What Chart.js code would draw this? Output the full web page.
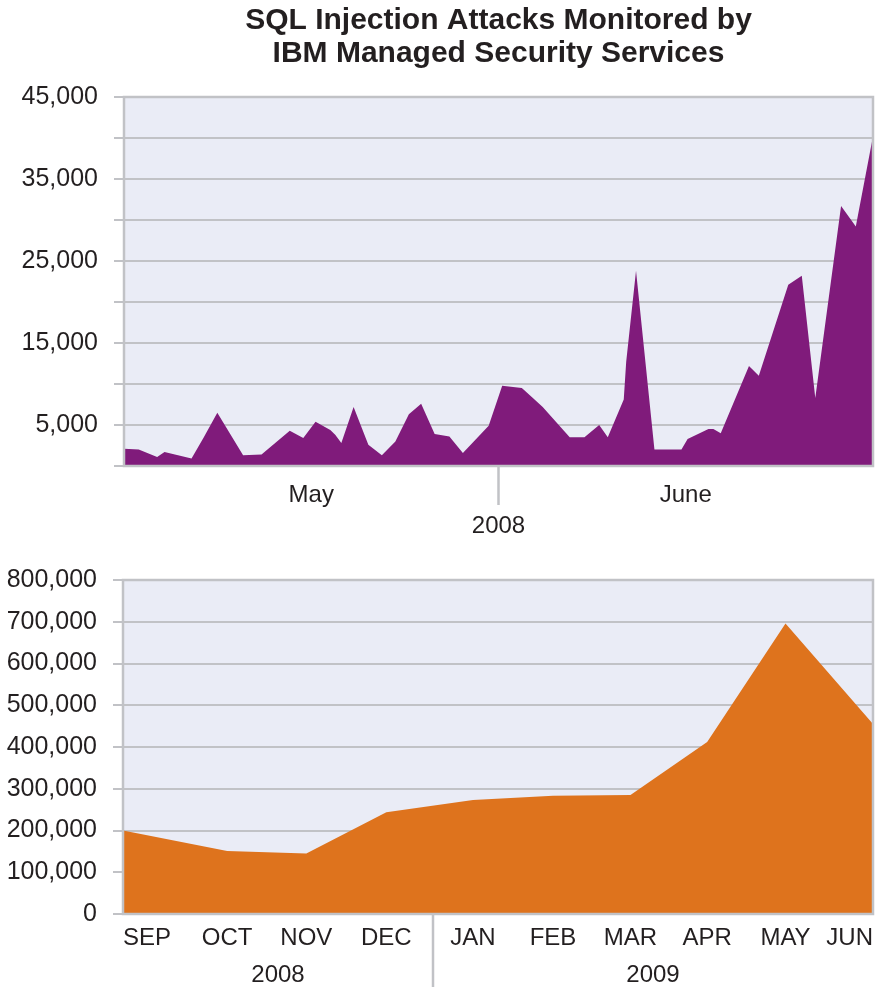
<!DOCTYPE html>
<html lang="en">
<head>
    <meta charset="UTF-8">
    <title>SQL Injection Attacks</title>
    <script src="https://cdn.jsdelivr.net/npm/chart.js@4.4.1/dist/chart.umd.min.js"></script>
    <style>
        body { margin: 0; background: #fff; }
        .charts { width: 876px; height: 987px; }
        canvas { display: block; }
    </style>
</head>
<body>
<div class="charts">
    <canvas id="daily" width="876" height="548"></canvas>
    <canvas id="monthly" width="876" height="439"></canvas>
</div>
<script>
    // daily attacks, May - June 2008 (x = days since start of May)
    const dailyDays = [0, 1.2, 2.7, 3.3, 5.5, 6.5, 7.6, 9.7, 11.2, 13.5,
        14.6, 15.6, 16.8, 17.2, 17.7, 18.7, 19.9, 21.0, 22.1, 23.2,
        24.2, 25.3, 26.5, 27.6, 29.7, 30.8, 32.4, 33.3, 34.1, 36.3,
        37.5, 38.7, 39.4, 40.7, 40.9, 41.7, 43.2, 45.4, 45.9, 47.6,
        48.0, 48.6, 50.9, 51.7, 54.1, 55.2, 56.3, 58.4, 59.6, 61]
    const dailyAttacks = [2100, 2000, 1100, 1700, 900, 3500, 6500, 1300, 1400, 4300,
        3400, 5400, 4400, 3800, 2800, 7200, 2600, 1300, 3000, 6300,
        7600, 3900, 3600, 1600, 4900, 9800, 9500, 8300, 7200, 3500,
        3500, 5000, 3500, 8100, 12700, 23800, 2000, 2000, 3300, 4500,
        4500, 4000, 12200, 11000, 22100, 23200, 8300, 31700, 29200, 40200]
    const dailyMonths = ['May', 'June']
    const dailyMonthEdges = [0, 30.5, 61]
    const dailyYears = ['2008']
    const dailyYearEdges = [0, 61]

    // monthly attacks, Sep 2008 - Jun 2009 (x = month position)
    const months = ['SEP', 'OCT', 'NOV', 'DEC', 'JAN', 'FEB', 'MAR', 'APR', 'MAY', 'JUN']
    const monthX = [0, 1.25, 2.2, 3.16, 4.2, 5.16, 6.09, 7.01, 7.95, 9]
    const monthlyAttacks = [200000, 151000, 145000, 244000, 273000, 283000, 285000, 412000, 696000, 455000]
    const years = ['2008', '2009']
    const yearEdges = [0, 3.72, 9]

    const textColor = '#231f20'
    const gridColor = '#c1c2c6'
    const labelFont = {family: 'Liberation Sans', size: 24}
    const valueFont = {family: 'Liberation Sans', size: 25}

    const midpoints = edges => edges.slice(1).map((e, i) => (edges[i] + e) / 2)

    // plot background, frame and the divider line below the x axis
    const plotDecor = {
        id: 'plotDecor',
        beforeDraw(chart, args, opts) {
            const {ctx, chartArea: a} = chart
            ctx.save()
            ctx.fillStyle = opts.background
            ctx.fillRect(a.left, a.top, a.width, a.height)
            ctx.restore()
        },
        afterDatasetsDraw(chart, args, opts) {
            const {ctx, chartArea: a} = chart
            ctx.save()
            ctx.strokeStyle = gridColor
            ctx.lineWidth = 2.5
            ctx.strokeRect(a.left, a.top, a.width, a.height)
            ctx.restore()
        },
        afterDraw(chart, args, opts) {
            const {ctx, chartArea: a} = chart
            const x = chart.scales.x.getPixelForValue(opts.divider)
            ctx.save()
            ctx.strokeStyle = gridColor
            ctx.lineWidth = 2.5
            ctx.beginPath()
            ctx.moveTo(x, a.bottom)
            ctx.lineTo(x, a.bottom + opts.dividerLength)
            ctx.stroke()
            ctx.restore()
        }
    }

    function bottomAxis(min, max, positions, labels, height, padding, weight, align) {
        return {
            type: 'linear',
            position: 'bottom',
            min: min,
            max: max,
            weight: weight,
            grid: {display: false, drawTicks: false},
            border: {display: false},
            afterBuildTicks: scale => {
                scale.ticks = positions.map(v => ({value: v}))
            },
            afterFit: scale => {
                scale.height = height
                scale.paddingLeft = 0
                scale.paddingRight = 0
            },
            ticks: {
                autoSkip: false,
                maxRotation: 0,
                align: align,
                padding: padding,
                color: textColor,
                font: labelFont,
                callback: (value, index) => labels[index]
            }
        }
    }

    function valueAxis(max, step, width, showLabel) {
        return {
            min: 0,
            max: max,
            afterFit: scale => {
                scale.width = width
            },
            grid: {color: gridColor, lineWidth: 2, tickLength: 10},
            border: {display: false},
            ticks: {
                stepSize: step,
                padding: 16,
                color: textColor,
                font: valueFont,
                callback: value => showLabel(value) ? value.toLocaleString('en-US') : ''
            }
        }
    }

    new Chart(document.getElementById('daily'), {
        type: 'line',
        data: {
            datasets: [{
                data: dailyDays.map((d, i) => ({x: d, y: dailyAttacks[i]})),
                backgroundColor: '#801b7b',
                borderWidth: 0,
                pointRadius: 0,
                tension: 0,
                fill: 'origin'
            }]
        },
        plugins: [plotDecor],
        options: {
            responsive: false,
            animation: false,
            layout: {padding: {left: 0, right: 3, top: 0, bottom: 0}},
            scales: {
                x: bottomAxis(0, 61, midpoints(dailyMonthEdges), dailyMonths, 46, 15, 0, 'center'),
                x2: bottomAxis(0, 61, midpoints(dailyYearEdges), dailyYears, 36, 0, 1, 'center'),
                y: valueAxis(45000, 5000, 124, v => v % 10000 === 5000)
            },
            plugins: {
                legend: {display: false},
                tooltip: {enabled: false},
                title: {
                    display: true,
                    fullSize: false,
                    text: ['SQL Injection Attacks Monitored by', 'IBM Managed Security Services'],
                    color: textColor,
                    font: {family: 'Liberation Sans', weight: 'bold', size: 30, lineHeight: 1.1},
                    padding: {top: 4, bottom: 27}
                },
                plotDecor: {background: '#eaecf6', divider: dailyMonthEdges[1], dividerLength: 39}
            }
        }
    })

    new Chart(document.getElementById('monthly'), {
        type: 'line',
        data: {
            datasets: [{
                data: monthX.map((m, i) => ({x: m, y: monthlyAttacks[i]})),
                backgroundColor: '#de731d',
                borderWidth: 0,
                pointRadius: 0,
                tension: 0,
                fill: 'origin'
            }]
        },
        plugins: [plotDecor],
        options: {
            responsive: false,
            animation: false,
            layout: {padding: {left: 0, right: 3, top: 32, bottom: 0}},
            scales: {
                x: bottomAxis(0, 9, monthX, months, 38, 10, 0, 'inner'),
                x2: bottomAxis(0, 9, midpoints(yearEdges), years, 35, 9, 1, 'center'),
                y: valueAxis(800000, 100000, 123, v => true)
            },
            plugins: {
                legend: {display: false},
                tooltip: {enabled: false},
                plotDecor: {background: '#eaecf6', divider: yearEdges[1], dividerLength: 80}
            }
        }
    })
</script>
</body>
</html>
